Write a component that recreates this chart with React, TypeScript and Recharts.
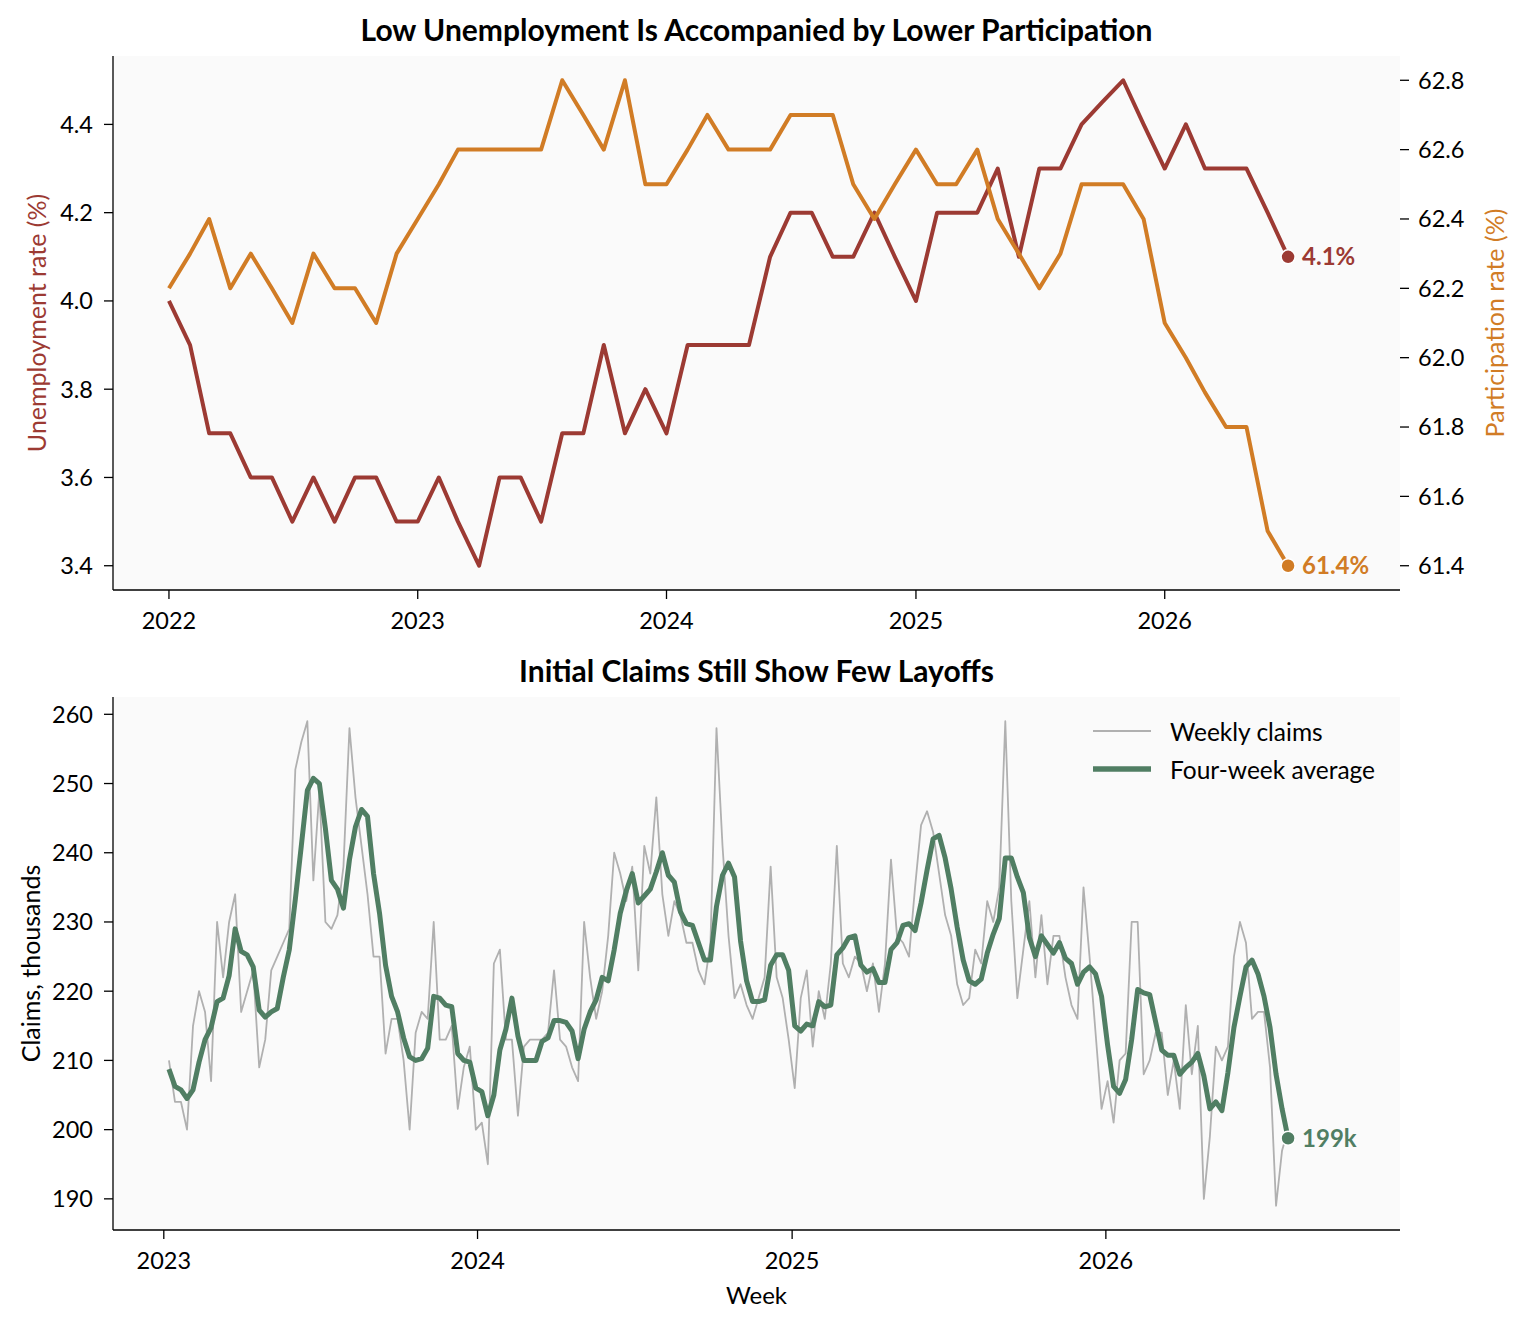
import React from "react";
import {
  LineChart,
  Line,
  XAxis,
  YAxis,
  CartesianGrid,
  ReferenceDot,
  Legend,
} from "recharts";

const FONT = "Lato, 'Noto Sans', sans-serif";
const INK = "#000000";
const RED = "#9c3a33";
const ORANGE = "#d17c25";
const GREEN = "#507e63";
const GREY = "#b0b0b0";
const PANEL = "#fafafa";

const WIDTH = 1520;
const DAY = 86400000;

// monthly, Jan 2022 - Jul 2026
const unemployment = [
  4.0, 3.9, 3.7, 3.7, 3.6, 3.6, 3.5, 3.6, 3.5, 3.6, 3.6, 3.5,
  3.5, 3.6, 3.5, 3.4, 3.6, 3.6, 3.5, 3.7, 3.7, 3.9, 3.7, 3.8,
  3.7, 3.9, 3.9, 3.9, 3.9, 4.1, 4.2, 4.2, 4.1, 4.1, 4.2, 4.1,
  4.0, 4.2, 4.2, 4.2, 4.3, 4.1, 4.3, 4.3, 4.4, 4.45, 4.5, 4.4,
  4.3, 4.4, 4.3, 4.3, 4.3, 4.2, 4.1,
];
const participation = [
  62.2, 62.3, 62.4, 62.2, 62.3, 62.2, 62.1, 62.3, 62.2, 62.2, 62.1, 62.3,
  62.4, 62.5, 62.6, 62.6, 62.6, 62.6, 62.6, 62.8, 62.7, 62.6, 62.8, 62.5,
  62.5, 62.6, 62.7, 62.6, 62.6, 62.6, 62.7, 62.7, 62.7, 62.5, 62.4, 62.5,
  62.6, 62.5, 62.5, 62.6, 62.4, 62.3, 62.2, 62.3, 62.5, 62.5, 62.5, 62.4,
  62.1, 62.0, 61.9, 61.8, 61.8, 61.5, 61.4,
];

// weekly initial claims, thousands (weeks ending Saturday, from 7 Jan 2023)
// the three weeks before the window only feed the four-week average
const claimsBefore = [214, 206, 205];
const weeklyClaims = [
  210, 204, 204, 200, 215, 220, 217, 207, 230, 222, 230, 234, 217, 220, 223, 209,
  213, 223, 225, 227, 229, 252, 256, 259, 236, 249, 230, 229, 231, 238, 258, 248,
  241, 234, 225, 225, 211, 216, 216, 210, 200, 214, 217, 216, 230, 213, 213, 215,
  203, 209, 212, 200, 201, 195, 224, 226, 213, 213, 202, 212, 213, 213, 213, 214,
  223, 213, 212, 209, 207, 230, 222, 216, 220, 228, 240, 237, 233, 238, 223, 241,
  237, 248, 234, 228, 233, 231, 227, 227, 223, 221, 227, 258, 241, 228, 219, 221,
  218, 216, 219, 222, 238, 222, 219, 213, 206, 219, 223, 212, 220, 216, 224, 241,
  224, 222, 225, 224, 220, 224, 217, 224, 239, 228, 227, 225, 235, 244, 246, 243,
  237, 231, 228, 221, 218, 219, 226, 224, 233, 230, 235, 259, 233, 219, 226, 233,
  222, 231, 221, 228, 228, 222, 218, 216, 235, 225, 214, 203, 207, 201, 210, 211,
  230, 230, 208, 210, 214, 214, 205, 210, 203, 218, 208, 215, 190, 199, 212, 210,
  212, 225, 230, 227, 216, 217, 217, 209, 189, 197, 200,
];

const topYears = [2022, 2023, 2024, 2025, 2026];
const bottomYears = [2023, 2024, 2025, 2026];
const uTicks = [3.4, 3.6, 3.8, 4.0, 4.2, 4.4];
const pTicks = [61.4, 61.6, 61.8, 62.0, 62.2, 62.4, 62.6, 62.8];
const claimTicks = [190, 200, 210, 220, 230, 240, 250, 260];

const legendItems = [
  { label: "Weekly claims", color: GREY, width: 2 },
  { label: "Four-week average", color: GREEN, width: 5.5 },
];

const yearTs = (y: number) => Date.UTC(y, 0, 1);
const fmtYear = (v: number) => String(new Date(v).getUTCFullYear());
const fmt1 = (v: number) => v.toFixed(1);

// matplotlib style margins, with extra room on the right for the end labels
function padRange(lo: number, hi: number, left = 0.05, right = 0.05): [number, number] {
  const s = hi - lo;
  return [lo - s * left, hi + s * right];
}

const monthly = unemployment.map((u, i) => ({
  t: Date.UTC(2022, i, 1),
  u,
  p: participation[i],
}));

const allClaims = [...claimsBefore, ...weeklyClaims];
const weekly = weeklyClaims.map((c, i) => {
  const win = allClaims.slice(i, i + 4);
  return {
    t: Date.UTC(2023, 0, 7) + i * 7 * DAY,
    c,
    avg: win.reduce((a, b) => a + b, 0) / win.length,
  };
});

const lastM = monthly[monthly.length - 1];
const lastW = weekly[weekly.length - 1];

const topX = padRange(monthly[0].t, lastM.t, 0.05, 0.1);
const bottomX = padRange(weekly[0].t, lastW.t, 0.05, 0.1);
const uDom = padRange(Math.min(...unemployment), Math.max(...unemployment));
const pDom = padRange(Math.min(...participation), Math.max(...participation));
const cDom = padRange(Math.min(...weeklyClaims), Math.max(...weeklyClaims));

const tick = { fill: INK, fontSize: 23.5, fontFamily: FONT };
const axisStroke = { stroke: INK, strokeWidth: 1.3 };

function sideTitle(text: string, color: string, x: number) {
  return (props: any) => {
    const vb = props.viewBox || {};
    const cy = vb.y + vb.height / 2;
    return (
      <text
        x={x}
        y={cy}
        transform={`rotate(-90 ${x} ${cy})`}
        textAnchor="middle"
        dominantBaseline="central"
        fill={color}
        fontSize={25}
        fontFamily={FONT}
      >
        {text}
      </text>
    );
  };
}

function endLabel(value: string, color: string) {
  return {
    value,
    position: "right" as const,
    offset: 7,
    fill: color,
    fontSize: 24,
    fontWeight: 700,
    fontFamily: FONT,
  };
}

function LegendBox() {
  return (
    <div style={{ fontFamily: FONT, fontSize: 24.5, color: INK }}>
      {legendItems.map((it) => (
        <div key={it.label} style={{ display: "flex", alignItems: "center", height: 38 }}>
          <svg width={58} height={10}>
            <line x1={0} x2={58} y1={5} y2={5} stroke={it.color} strokeWidth={it.width} />
          </svg>
          <span style={{ marginLeft: 19, whiteSpace: "nowrap" }}>{it.label}</span>
        </div>
      ))}
    </div>
  );
}

const titleStyle: React.CSSProperties = {
  position: "absolute",
  left: 113,
  width: 1287,
  textAlign: "center",
  fontFamily: FONT,
  fontWeight: 700,
  fontSize: 30,
  lineHeight: "36px",
  color: INK,
  whiteSpace: "nowrap",
};

export default function App() {
  return (
    <div
      style={{
        position: "absolute",
        left: 0,
        top: 0,
        width: WIDTH,
        height: 1327,
        background: "#ffffff",
        fontFamily: FONT,
      }}
    >
      <div style={{ ...titleStyle, top: 11 }}>
        Low Unemployment Is Accompanied by Lower Participation
      </div>
      <div style={{ position: "absolute", left: 0, top: 0 }}>
        <LineChart
          width={WIDTH}
          height={640}
          data={monthly}
          margin={{ top: 56, right: 0, bottom: 10, left: 0 }}
        >
          <CartesianGrid yAxisId="u" horizontal={false} vertical={false} fill={PANEL} />
          <XAxis
            dataKey="t"
            type="number"
            scale="linear"
            domain={topX}
            allowDataOverflow
            ticks={topYears.map(yearTs)}
            tickFormatter={fmtYear}
            tick={tick}
            axisLine={axisStroke}
            tickLine={axisStroke}
            tickSize={9}
            tickMargin={13}
            height={40}
          />
          <YAxis
            yAxisId="u"
            orientation="left"
            type="number"
            domain={uDom}
            allowDataOverflow
            ticks={uTicks}
            tickFormatter={fmt1}
            tick={tick}
            axisLine={axisStroke}
            tickLine={axisStroke}
            tickSize={9}
            tickMargin={11}
            width={113}
            label={sideTitle("Unemployment rate (%)", RED, 36)}
          />
          <YAxis
            yAxisId="p"
            orientation="right"
            type="number"
            domain={pDom}
            allowDataOverflow
            ticks={pTicks}
            tickFormatter={fmt1}
            tick={tick}
            axisLine={false}
            tickLine={axisStroke}
            tickSize={9}
            tickMargin={9}
            width={120}
            label={sideTitle("Participation rate (%)", ORANGE, 1494)}
          />
          <Line
            yAxisId="u"
            type="linear"
            dataKey="u"
            stroke={RED}
            strokeWidth={4}
            strokeLinejoin="round"
            dot={false}
            activeDot={false}
            isAnimationActive={false}
          />
          <Line
            yAxisId="p"
            type="linear"
            dataKey="p"
            stroke={ORANGE}
            strokeWidth={4}
            strokeLinejoin="round"
            dot={false}
            activeDot={false}
            isAnimationActive={false}
          />
          <ReferenceDot
            yAxisId="u"
            x={lastM.t}
            y={lastM.u}
            r={7}
            fill={RED}
            stroke="#ffffff"
            strokeWidth={1.5}
            label={endLabel(`${lastM.u.toFixed(1)}%`, RED)}
          />
          <ReferenceDot
            yAxisId="p"
            x={lastM.t}
            y={lastM.p}
            r={7}
            fill={ORANGE}
            stroke="#ffffff"
            strokeWidth={1.5}
            label={endLabel(`${lastM.p.toFixed(1)}%`, ORANGE)}
          />
        </LineChart>
      </div>

      <div style={{ ...titleStyle, top: 652 }}>Initial Claims Still Show Few Layoffs</div>
      <div style={{ position: "absolute", left: 0, top: 640 }}>
        <LineChart
          width={WIDTH}
          height={687}
          data={weekly}
          margin={{ top: 57, right: 120, bottom: 0, left: 0 }}
        >
          <CartesianGrid horizontal={false} vertical={false} fill={PANEL} />
          <XAxis
            dataKey="t"
            type="number"
            scale="linear"
            domain={bottomX}
            allowDataOverflow
            ticks={bottomYears.map(yearTs)}
            tickFormatter={fmtYear}
            tick={tick}
            axisLine={axisStroke}
            tickLine={axisStroke}
            tickSize={9}
            tickMargin={13}
            height={97}
            label={{
              value: "Week",
              position: "insideBottom",
              offset: 23,
              fill: INK,
              fontSize: 24,
              fontFamily: FONT,
            }}
          />
          <YAxis
            type="number"
            domain={cDom}
            allowDataOverflow
            ticks={claimTicks}
            tick={tick}
            axisLine={axisStroke}
            tickLine={axisStroke}
            tickSize={9}
            tickMargin={11}
            width={113}
            label={sideTitle("Claims, thousands", INK, 30)}
          />
          <Legend
            layout="vertical"
            align="center"
            verticalAlign="middle"
            content={<LegendBox />}
            wrapperStyle={{ left: 1093, top: 72, width: "auto" }}
          />
          <Line
            type="linear"
            dataKey="c"
            name="Weekly claims"
            stroke={GREY}
            strokeWidth={1.8}
            strokeLinejoin="round"
            dot={false}
            activeDot={false}
            isAnimationActive={false}
          />
          <Line
            type="linear"
            dataKey="avg"
            name="Four-week average"
            stroke={GREEN}
            strokeWidth={5}
            strokeLinejoin="round"
            dot={false}
            activeDot={false}
            isAnimationActive={false}
          />
          <ReferenceDot
            x={lastW.t}
            y={lastW.avg}
            r={7}
            fill={GREEN}
            stroke="#ffffff"
            strokeWidth={1.5}
            label={endLabel(`${Math.round(lastW.avg)}k`, GREEN)}
          />
        </LineChart>
      </div>
    </div>
  );
}
